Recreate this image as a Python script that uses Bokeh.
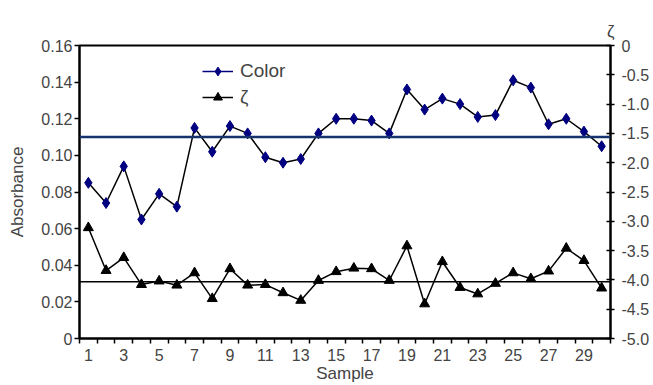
from bokeh.plotting import figure
from bokeh.models import (Range1d, LinearAxis, FixedTicker, NumeralTickFormatter,
                          Span, Title, Legend, LegendItem, ColumnDataSource)
from bokeh.embed import file_html
from bokeh.resources import INLINE

# ---- data ----
samples = list(range(1, 31))
color_abs = [0.085, 0.074, 0.094, 0.065, 0.079, 0.072, 0.115, 0.102, 0.116, 0.112,
             0.099, 0.096, 0.098, 0.112, 0.120, 0.120, 0.119, 0.112, 0.136, 0.125,
             0.131, 0.128, 0.121, 0.122, 0.141, 0.137, 0.117, 0.120, 0.113, 0.105]
zeta = [-3.11, -3.84, -3.62, -4.08, -4.02, -4.09, -3.88, -4.32, -3.81, -4.09,
        -4.08, -4.22, -4.35, -4.01, -3.86, -3.80, -3.81, -4.01, -3.42, -4.41,
        -3.69, -4.13, -4.24, -4.06, -3.88, -3.98, -3.85, -3.46, -3.67, -4.14]
color_limit = 0.110
zeta_limit = -4.03
left_ticks = [0, 0.02, 0.04, 0.06, 0.08, 0.10, 0.12, 0.14, 0.16]
right_ticks = [-5.0, -4.5, -4.0, -3.5, -3.0, -2.5, -2.0, -1.5, -1.0, -0.5, 0.0]
x_label_ticks = [1, 3, 5, 7, 9, 11, 13, 15, 17, 19, 21, 23, 25, 27, 29]
x_boundaries = [i + 0.5 for i in range(0, 31)]

FONT = "Liberation Sans"
NAVY = "#000080"

p = figure(width=653, height=385, output_backend="svg", toolbar_location=None,
           x_range=Range1d(0.5, 30.5), y_range=Range1d(0, 0.16),
           min_border_left=79, min_border_right=43, min_border_top=45, min_border_bottom=45)
p.extra_y_ranges = {"zeta": Range1d(-5, 0)}
p.grid.visible = False
p.outline_line_color = "black"
p.outline_line_width = 2
p.background_fill_color = "white"
p.border_fill_color = "white"

# x axis
xa = p.xaxis[0]
xa.ticker = FixedTicker(ticks=x_label_ticks, minor_ticks=x_boundaries)
xa.major_tick_out = 0
xa.major_tick_in = 0
xa.minor_tick_out = 5
xa.minor_tick_in = 0
xa.minor_tick_line_color = "black"
xa.minor_tick_line_width = 1.5
xa.axis_line_width = 2
xa.major_label_text_font = FONT
xa.major_label_text_font_size = "16px"
xa.major_label_standoff = 5
xa.axis_label = "Sample"
xa.axis_label_text_font = FONT
xa.axis_label_text_font_size = "17px"
xa.axis_label_text_font_style = "normal"
xa.axis_label_standoff = 0

# left axis
ya = p.yaxis[0]
ya.ticker = FixedTicker(ticks=left_ticks)
ya.formatter = NumeralTickFormatter(format="0.00")
ya.major_label_overrides = {0: "0"}
ya.major_tick_out = 5
ya.major_tick_in = 0
ya.major_tick_line_width = 1.5
ya.minor_tick_line_color = None
ya.axis_line_width = 2
ya.major_label_text_font = FONT
ya.major_label_text_font_size = "16px"
ya.major_label_standoff = 2
ya.axis_label = "Absorbance"
ya.axis_label_text_font = FONT
ya.axis_label_text_font_size = "17px"
ya.axis_label_text_font_style = "normal"
ya.axis_label_standoff = 11

# right axis
ra = LinearAxis(y_range_name="zeta")
ra.ticker = FixedTicker(ticks=right_ticks)
ra.formatter = NumeralTickFormatter(format="0.0")
ra.major_label_overrides = {0: "0"}
ra.major_tick_out = 4
ra.major_tick_in = 4
ra.major_tick_line_width = 1.5
ra.minor_tick_line_color = None
ra.axis_line_width = 2
ra.major_label_text_font = FONT
ra.major_label_text_font_size = "16px"
ra.major_label_standoff = 7
p.add_layout(ra, "right")

# right axis title
p.add_layout(Title(text="ζ", align="right", text_font=FONT, text_font_size="17px",
                   text_font_style="normal", standoff=10, offset=-4), "above")

# reference lines
p.add_layout(Span(location=color_limit, dimension="width", line_color="#16336e", line_width=2.5))
p.add_layout(Span(location=zeta_limit, dimension="width", y_range_name="zeta",
                  line_color="black", line_width=1.5))

# series
p.line(samples, color_abs, line_color="black", line_width=1.5)
p.scatter(samples, color_abs, marker="diamond", size=11, fill_color=NAVY, line_color=NAVY)
p.line(samples, zeta, y_range_name="zeta", line_color="black", line_width=1.5)
p.scatter(samples, zeta, y_range_name="zeta", marker="triangle", size=10,
          fill_color="black", line_color="black")

# legend (legend-only renderers, NaN data)
nan = float("nan")
dummy = ColumnDataSource(data=dict(x=[nan], y=[nan]))
lc1 = p.line("x", "y", source=dummy, line_color=NAVY, line_width=1.5)
lc2 = p.scatter("x", "y", source=dummy, marker="diamond", size=11, fill_color=NAVY, line_color=NAVY)
lz1 = p.line("x", "y", source=dummy, line_color="black", line_width=1.5)
lz2 = p.scatter("x", "y", source=dummy, marker="triangle", size=10, fill_color="black", line_color="black")
legend = Legend(items=[LegendItem(label="Color", renderers=[lc1, lc2]),
                       LegendItem(label="ζ", renderers=[lz1, lz2])],
                location=(123, 230))
legend.border_line_color = None
legend.background_fill_alpha = 0
legend.padding = 0
legend.margin = 0
legend.spacing = 4
legend.glyph_width = 31
legend.glyph_height = 22
legend.label_height = 22
legend.label_standoff = 7
legend.label_text_font = FONT
legend.label_text_font_size = "19px"
p.add_layout(legend)

open("out.html", "w").write(file_html(p, INLINE))
